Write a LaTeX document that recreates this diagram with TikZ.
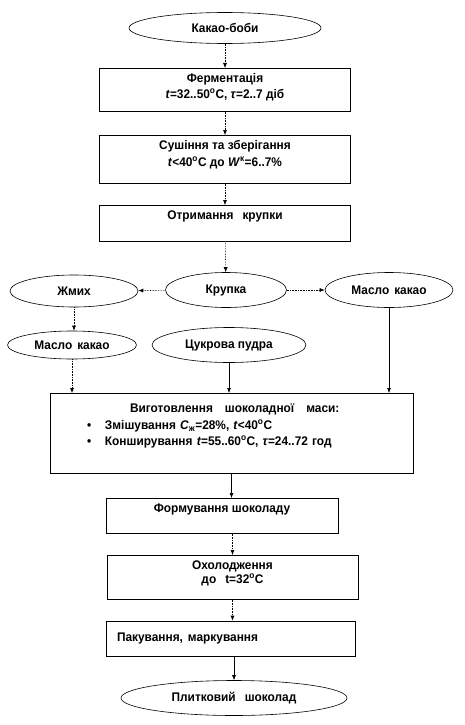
\documentclass[tikz,border=0pt]{standalone}
\usepackage{fontspec}
\setmainfont{Liberation Sans}[FakeStretch=0.95]
\usepackage{tikz}
\usetikzlibrary{arrows.meta,positioning,shapes.geometric,calc}

\newcommand{\dg}{\textsuperscript{o}C}
\newcommand{\wgap}{\hspace{9pt}}
\newcommand{\sgap}{\hspace{5pt}}

\begin{document}
\begin{tikzpicture}[
    x=1pt, y=-1pt,
    font=\fontsize{12.5}{16}\selectfont\bfseries,
    box/.style={draw, line width=0.6pt, align=center, anchor=north,
      inner ysep=5pt, text height=9pt},
    oval/.style={draw, line width=0.6pt, ellipse, inner sep=0pt},
    arr/.style={-{Latex[length=5pt,width=4pt]}, line width=0.6pt},
    darr/.style={arr, densely dotted},
  ]
    \useasboundingbox (0,0) rectangle (465,725);

    % top line of the flow
    \node[oval, minimum width=192pt, minimum height=31pt] (beans) at (225,28)
      {Какао-боби};
    \node[box, minimum width=251pt, text height=25pt, text depth=8pt] (ferm) at (225,68)
      {Ферментація\\\textit{t}=32..50\dg, \textit{τ}=2..7 діб};
    \node[box, minimum width=251pt, text height=26pt, text depth=12pt] (dry) at (225,135)
      {Сушіння та зберігання\\[1pt]\textit{t}<40\dg{} до \textit{W}\textsuperscript{к}=6..7\%};
    \node[box, minimum width=251pt, text depth=17pt] (grits) at (225,205)
      {Отримання\wgap крупки};
    \draw[darr] (beans) -- (ferm);
    \draw[darr] (ferm) -- (dry);
    \draw[darr] (dry) -- (grits);

    % products of the grits
    \node[oval, minimum width=121pt, minimum height=35pt] (krupka) at (226,290)
      {Крупка};
    \node[oval, minimum width=128pt, minimum height=32pt] (cake) at (74,291)
      {Жмих};
    \node[oval, minimum width=128pt, minimum height=35pt] (butterR) at (389,290)
      {Масло\sgap какао};
    \node[oval, minimum width=129pt, minimum height=28pt] (butterL) at (72,345)
      {Масло\sgap какао};
    \node[oval, minimum width=154pt, minimum height=35pt] (sugar) at (229,345)
      {Цукрова пудра};
    \draw[darr] (grits) -- (krupka);
    \draw[darr] (krupka) -- (cake);
    \draw[darr] (krupka) -- (butterR);
    \draw[darr] (cake.south) -- (cake.south |- butterL.north);

    % chocolate mass
    \node[box, align=left, text width=351pt, inner xsep=6pt, text height=12pt,
      inner ysep=7pt, text depth=54pt] (mass) at (231.5,393)
      {\hspace*{74pt}Виготовлення\hspace{12pt}шоколадної\hspace{12pt}маси:\\[1pt]
       \hspace*{31pt}\makebox[18pt][l]{\textbullet}Змішування \textit{C}\textsubscript{ж}=28\%, \textit{t}<40\dg\\
       \hspace*{31pt}\makebox[18pt][l]{\textbullet}Конширування \textit{t}=55..60\dg, \textit{τ}=24..72 год};
    \draw[darr] (butterL.south) -- (butterL.south |- mass.north);
    \draw[arr] (sugar.south) -- (sugar.south |- mass.north);
    \draw[arr] (butterR.south) -- (butterR.south |- mass.north);

    % finishing
    \node[box, minimum width=232pt, text depth=16pt] (mould) at (222,498)
      {Формування шоколаду};
    \node[box, minimum width=251pt, text height=23pt, text depth=11pt,
      font=\fontsize{12.5}{14}\selectfont\bfseries]
      (cool) at (232.5,555) {Охолодження\\до\wgap t=32\dg};
    \node[draw, line width=0.6pt, align=left, text width=227pt, inner xsep=11pt,
      minimum height=35pt] (pack) at (230.5,638.5)
      {Пакування,\sgap маркування};
    \node[oval, minimum width=226pt, minimum height=35pt] (bar) at (234,698)
      {Плитковий\wgap шоколад};
    \draw[arr] (mass.south) -- (mass.south |- mould.north);
    \draw[darr] (cool.north |- mould.south) -- (cool.north);
    \draw[darr] (cool.south) -- (cool.south |- pack.north);
    \draw[arr] (bar.north |- pack.south) -- (bar.north);
  \end{tikzpicture}
\end{document}
